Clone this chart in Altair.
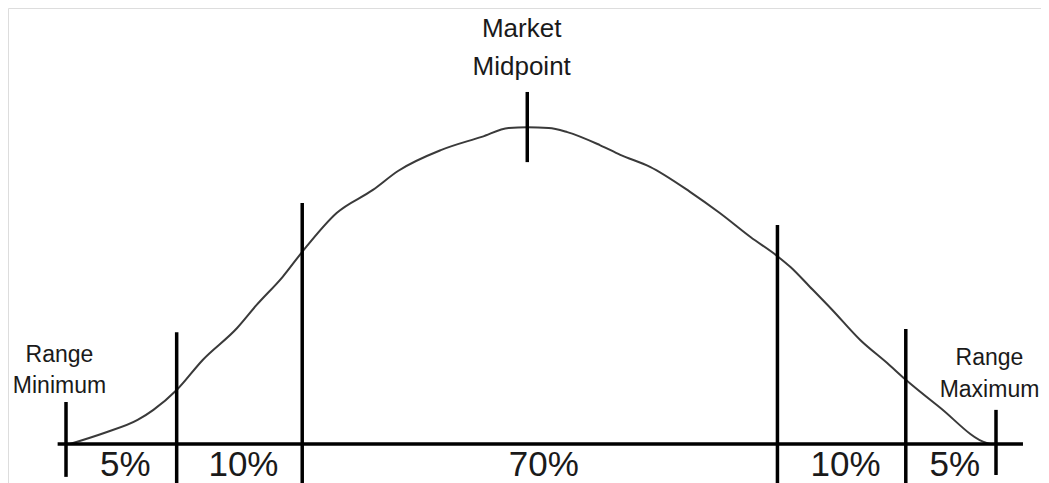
import altair as alt
import pandas as pd

# Position along the pay range (Range Minimum = 0, Range Maximum = 100)
curve_x = [0.4, 4.1, 7.7, 9.4, 11.9, 14.7, 18.4, 20.5, 23.3, 25.4, 29.1, 33.0, 35.7,
           40.3, 44.7, 47.6, 49.6, 51.9, 53.9, 57.4, 59.6, 62.8, 67.1, 70.3, 73.6,
           76.6, 77.9, 80.0, 82.4, 85.4, 88.3, 90.3, 93.9, 99.0, 99.4]
# Relative frequency (peak = 100)
curve_y = [0.0, 3.5, 7.6, 10.8, 17.1, 26.6, 36.7, 44.0, 52.9, 60.8, 73.1, 80.4, 86.4,
           93.0, 97.2, 100.0, 100.2, 100.0, 98.7, 94.6, 91.5, 87.7, 79.8, 73.1, 65.5,
           59.2, 56.0, 49.7, 42.4, 32.9, 25.6, 20.3, 11.7, 0.3, 0.0]

boundaries = [0.0, 11.9, 25.4, 76.5, 90.3, 100.0]
boundary_tops = [13.3, 35.4, 76.3, 69.3, 36.4, 10.8]
boundary_bottoms = [-10.4, -15.0, -15.0, -15.0, -15.0, -9.8]
shares = ["5%", "10%", "70%", "10%", "5%"]

midpoint_x = 49.6
midpoint_tick = [89.2, 111.4]

axis_ext = [-0.9, 102.9]

ann_text = ["Range\nMinimum", "Market\nMidpoint", "Range\nMaximum"]
ann_x = [-0.7, 49.0, 99.3]
ann_y = [25.9, 128.7, 25.0]
ann_size = [23, 26, 23]
ann_lh = [31, 38, 32]

curve_df = pd.DataFrame({"x": curve_x, "y": curve_y})
bounds_df = pd.DataFrame({"x": boundaries, "top": boundary_tops, "bottom": boundary_bottoms})
share_df = pd.DataFrame({
    "x": [(boundaries[i] + boundaries[i + 1]) / 2 for i in range(len(shares))],
    "label": shares,
    "y": [-10.1] * len(shares),
})
tick_df = pd.DataFrame({"x": [midpoint_x], "y": [midpoint_tick[0]], "y2": [midpoint_tick[1]]})
axis_df = pd.DataFrame({"x": [axis_ext[0]], "x2": [axis_ext[1]], "y": [0.0]})

xs = alt.Scale(domain=[-6.237, 104.839], nice=False, zero=False)
ys = alt.Scale(domain=[-12.34, 137.97], nice=False, zero=False)

X = lambda f="x": alt.X(f"{f}:Q", scale=xs, axis=None)
Y = lambda f="y": alt.Y(f"{f}:Q", scale=ys, axis=None)

curve = alt.Chart(curve_df).mark_line(
    color="#3a3a3a", strokeWidth=2, interpolate="monotone"
).encode(x=X(), y=Y())

base_line = alt.Chart(axis_df).mark_rule(color="black", strokeWidth=3.5).encode(
    x=X(), x2="x2:Q", y=Y()
)

bound_rules = alt.Chart(bounds_df).mark_rule(color="black", strokeWidth=3.5).encode(
    x=X(), y=Y("top"), y2="bottom:Q"
)

mid_tick = alt.Chart(tick_df).mark_rule(color="black", strokeWidth=3.5).encode(
    x=X(), y=Y(), y2="y2:Q"
)

share_text = alt.Chart(share_df).mark_text(
    font="Liberation Sans", fontSize=35, color="#1a1a1a", align="center",
    baseline="alphabetic", dx=4
).encode(x=X(), y=Y(), text="label:N")

ann_layers = []
for t, x, y, s, lh in zip(ann_text, ann_x, ann_y, ann_size, ann_lh):
    d = pd.DataFrame({"x": [x], "y": [y], "label": [t]})
    ann_layers.append(
        alt.Chart(d).mark_text(
            font="Liberation Sans", fontSize=s, color="#1a1a1a", align="center",
            baseline="alphabetic", lineBreak="\n", lineHeight=lh
        ).encode(x=X(), y=Y(), text="label:N")
    )

chart = alt.layer(curve, base_line, bound_rules, mid_tick, share_text, *ann_layers).properties(
    width=1033, height=475, padding=0, autosize=alt.AutoSizeParams(type="none")
).configure_view(stroke=None).configure(background="white")

chart.save("out.html", embed_options={"renderer": "svg", "actions": False})
